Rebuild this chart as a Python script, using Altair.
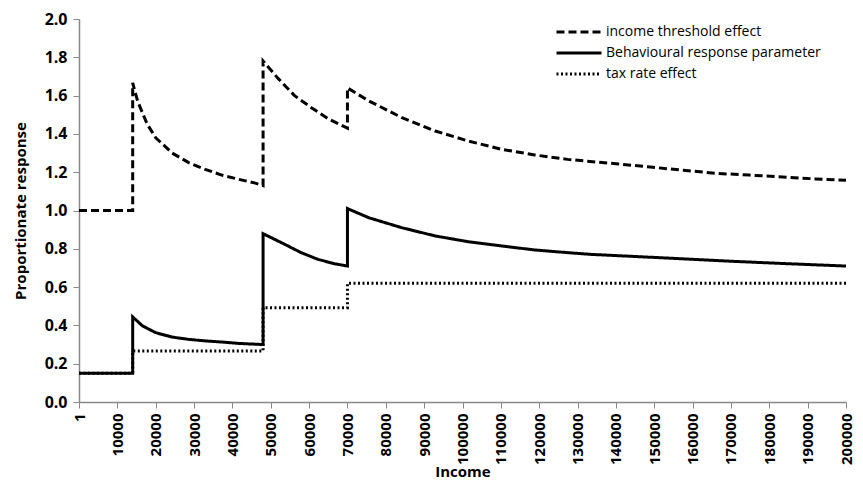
import altair as alt
import pandas as pd

# income threshold effect (dashed)
thr_x = [1, 14000, 14000, 14600, 15300, 17800, 20000, 24300, 28600, 32900, 37200, 41600, 46000, 48000,
         48000, 51900, 56200, 60600, 64900, 70000,
         70000, 75600, 84200, 92900, 101500, 110100, 118800, 127400, 140000, 149000, 157600, 166200,
         174800, 183400, 192000, 200000]
thr_y = [1.0, 1.0, 1.667, 1.62, 1.57, 1.45, 1.38, 1.30, 1.25, 1.215, 1.185, 1.163, 1.143, 1.13,
         1.78, 1.69, 1.60, 1.537, 1.48, 1.43,
         1.64, 1.572, 1.485, 1.415, 1.363, 1.32, 1.29, 1.267, 1.244, 1.227, 1.21, 1.194,
         1.185, 1.175, 1.165, 1.158]

# behavioural response parameter (solid)
beh_x = [1, 14000, 14000, 16600, 20000, 24300, 28600, 33000, 37300, 41600, 48000,
         48000, 53700, 57900, 62300, 66600, 70000,
         70000, 75600, 84200, 92900, 101500, 110100, 118800, 127400, 133400, 150000, 170000, 185000, 200000]
beh_y = [0.15, 0.15, 0.444, 0.397, 0.362, 0.339, 0.327, 0.319, 0.313, 0.306, 0.30,
         0.879, 0.823, 0.78, 0.745, 0.722, 0.71,
         1.01, 0.962, 0.91, 0.867, 0.837, 0.815, 0.794, 0.78, 0.771, 0.755, 0.735, 0.722, 0.71]

# tax rate effect (dotted)
tax_x = [1, 14000, 14000, 48000, 48000, 70000, 70000, 200000]
tax_y = [0.15, 0.15, 0.266, 0.266, 0.492, 0.492, 0.62, 0.62]

series = ["income threshold effect", "Behavioural response parameter", "tax rate effect"]
x_ticks = [1] + list(range(10000, 200001, 10000))
y_ticks = [round(0.2 * i, 1) for i in range(11)]

rows = []
for name, xs, ys in [(series[0], thr_x, thr_y), (series[1], beh_x, beh_y), (series[2], tax_x, tax_y)]:
    for i, (xv, yv) in enumerate(zip(xs, ys)):
        rows.append({"series": name, "income": xv, "value": yv, "idx": i})
df = pd.DataFrame(rows)

FONT = "Open Sans"

chart = alt.Chart(df).mark_line(color="black", strokeWidth=3, strokeJoin="miter").encode(
    x=alt.X("income:Q",
            scale=alt.Scale(domain=[0, 200000], nice=False, zero=False),
            axis=alt.Axis(title="Income", values=x_ticks, labelAngle=-90, labelAlign="right",
                          labelBaseline="middle", grid=False, format="d",
                          labelFont=FONT, labelFontSize=15, labelFontWeight="bold", labelColor="black",
                          titleFont=FONT, titleFontSize=15, titleFontWeight="bold", titleColor="black",
                          titlePadding=0, labelPadding=5, tickSize=6,
                          domainColor="#888", tickColor="#888", domainWidth=1.5, labelOverlap=False,
                          labelBound=False, labelFlush=False)),
    y=alt.Y("value:Q",
            scale=alt.Scale(domain=[0, 2.0], nice=False),
            axis=alt.Axis(title="Proportionate response", values=y_ticks, format=".1f", grid=False,
                          labelFont=FONT, labelFontSize=16, labelFontWeight="bold", labelColor="black",
                          titleFont=FONT, titleFontSize=15, titleFontWeight="bold", titleColor="black",
                          titlePadding=16, labelPadding=6, tickSize=6,
                          domainColor="#888", tickColor="#888", domainWidth=1.5)),
    strokeDash=alt.StrokeDash("series:N",
                              scale=alt.Scale(domain=series, range=[[8, 4], [1, 0], [2, 2.5]]),
                              legend=alt.Legend(title=None, orient="none", legendX=476, legendY=5,
                                                symbolType="stroke", symbolSize=2025, symbolStrokeWidth=3,
                                                symbolStrokeColor="black", clipHeight=16, rowPadding=5,
                                                labelOffset=3,
                                                labelFont=FONT, labelFontSize=14, labelColor="black",
                                                labelLimit=400)),
    order="idx:Q",
).properties(
    width=767, height=383,
    autosize=alt.AutoSizeParams(type="none"),
    padding={"left": 71, "top": 11, "right": 9, "bottom": 78},
).configure_view(stroke=None)

chart.save("out.html", embed_options={"renderer": "svg", "actions": False})
